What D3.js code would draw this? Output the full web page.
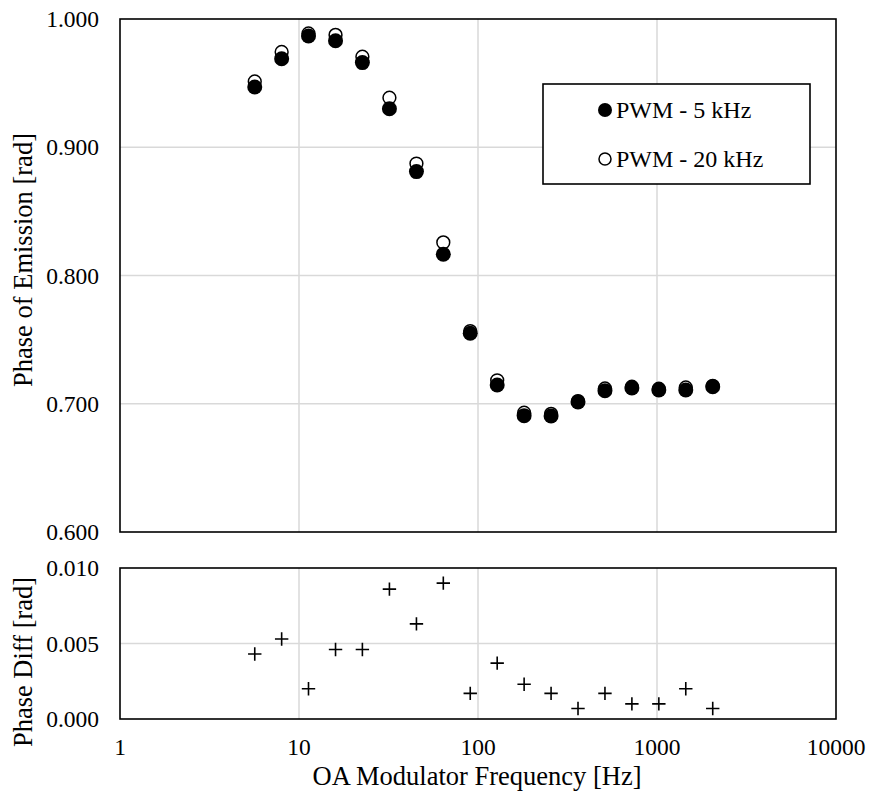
<!DOCTYPE html>
<html>
<head>
<meta charset="utf-8">
<script src="https://cdn.jsdelivr.net/npm/d3@7"></script>
<style>
  body { margin: 0; background: #fff; }
</style>
</head>
<body>
<div id="chart"></div>
<script>
// OA modulator frequencies [Hz]
var freqs = [5.66, 8, 11.3, 16, 22.6, 32, 45.3, 64, 90.5, 128, 181, 256, 362, 512, 724, 1024, 1448, 2048];
// phase of emission, PWM 5 kHz (filled)
var phase5k = [0.947, 0.969, 0.9867, 0.983, 0.966, 0.930, 0.881, 0.8166, 0.755, 0.7146, 0.6907, 0.6904, 0.7014, 0.7102, 0.7123, 0.7107, 0.7107, 0.7133];
// phase of emission, PWM 20 kHz (open)
var phase20k = [0.9513, 0.9743, 0.9887, 0.9876, 0.9706, 0.9386, 0.8873, 0.8258, 0.7567, 0.7183, 0.6930, 0.6921, 0.7021, 0.7119, 0.7133, 0.7117, 0.7127, 0.7140];
// phase difference
var phaseDiff = [0.0043, 0.0053, 0.0020, 0.0046, 0.0046, 0.0086, 0.0063, 0.0090, 0.0017, 0.0037, 0.0023, 0.0017, 0.0007, 0.0017, 0.0010, 0.0010, 0.0020, 0.0007];

var xTicks = [1, 10, 100, 1000, 10000];
var topTicks = [0.6, 0.7, 0.8, 0.9, 1.0];
var botTicks = [0, 0.005, 0.01];

var svgWidth = 872, svgHeight = 798;
var left = 120, right = 836;
var serif = "'Liberation Serif', Tinos, 'Times New Roman', serif";

var svg = d3.select("#chart").append("svg")
  .attr("width", svgWidth)
  .attr("height", svgHeight)
  .attr("font-family", serif);

var x = d3.scaleLog().domain([1, 10000]).range([left, right]);
var yTop = d3.scaleLinear().domain([0.6, 1.0]).range([532, 19]);
var yBot = d3.scaleLinear().domain([0, 0.01]).range([719, 568]);

var fmt = d3.format(".3f");

function drawPanel(y, ticks, y0, y1) {
  var g = svg.append("g");
  // vertical grid
  g.selectAll(".vg").data(xTicks.slice(1, -1)).enter().append("line")
    .attr("x1", d => x(d)).attr("x2", d => x(d))
    .attr("y1", y0).attr("y2", y1)
    .attr("stroke", "#d9d9d9").attr("stroke-width", 1.5);
  // horizontal grid
  g.selectAll(".hg").data(ticks.slice(1, -1)).enter().append("line")
    .attr("x1", left).attr("x2", right)
    .attr("y1", d => y(d)).attr("y2", d => y(d))
    .attr("stroke", "#d9d9d9").attr("stroke-width", 1.5);
  // y tick labels
  g.selectAll(".yl").data(ticks).enter().append("text")
    .attr("x", 99).attr("y", d => y(d))
    .attr("dy", "0.35em")
    .attr("text-anchor", "end")
    .attr("font-size", 23.5)
    .text(d => fmt(d));
  return g;
}

drawPanel(yTop, topTicks, 19, 532);
drawPanel(yBot, botTicks, 568, 719);

// top markers: open first, filled on top
svg.append("g").selectAll("circle").data(freqs).enter().append("circle")
  .attr("cx", d => x(d))
  .attr("cy", (d, i) => yTop(phase20k[i]))
  .attr("r", 6.4)
  .attr("fill", "#fff").attr("stroke", "#000").attr("stroke-width", 1.5);

svg.append("g").selectAll("circle").data(freqs).enter().append("circle")
  .attr("cx", d => x(d))
  .attr("cy", (d, i) => yTop(phase5k[i]))
  .attr("r", 7.5)
  .attr("fill", "#000");

// bottom crosses
svg.append("g").selectAll("path").data(freqs).enter().append("path")
  .attr("d", "M-6.7,0H6.7M0,-6.7V6.7")
  .attr("transform", (d, i) => `translate(${x(d)},${yBot(phaseDiff[i])})`)
  .attr("stroke", "#000").attr("stroke-width", 1.6).attr("fill", "none");

// plot frames
svg.append("rect").attr("x", left).attr("y", 19).attr("width", right - left).attr("height", 532 - 19)
  .attr("fill", "none").attr("stroke", "#000").attr("stroke-width", 1.6);
svg.append("rect").attr("x", left).attr("y", 568).attr("width", right - left).attr("height", 719 - 568)
  .attr("fill", "none").attr("stroke", "#000").attr("stroke-width", 1.6);

// x tick labels
svg.append("g").selectAll("text").data(xTicks).enter().append("text")
  .attr("x", d => x(d)).attr("y", 755)
  .attr("text-anchor", "middle")
  .attr("font-size", 23.5)
  .text(d => d);

// axis titles
svg.append("text")
  .attr("x", 477).attr("y", 785)
  .attr("text-anchor", "middle")
  .attr("font-size", 26.5)
  .text("OA Modulator Frequency [Hz]");

svg.append("text")
  .attr("transform", "translate(32,260) rotate(-90)")
  .attr("text-anchor", "middle")
  .attr("font-size", 26.5)
  .text("Phase of Emission [rad]");

svg.append("text")
  .attr("transform", "translate(32,662) rotate(-90)")
  .attr("text-anchor", "middle")
  .attr("font-size", 26.5)
  .text("Phase Diff [rad]");

// legend
var lg = svg.append("g");
lg.append("rect").attr("x", 543).attr("y", 84).attr("width", 267).attr("height", 100)
  .attr("fill", "#fff").attr("stroke", "#000").attr("stroke-width", 1.6);
lg.append("circle").attr("cx", 605).attr("cy", 110).attr("r", 7).attr("fill", "#000");
lg.append("circle").attr("cx", 605).attr("cy", 159).attr("r", 6).attr("fill", "#fff")
  .attr("stroke", "#000").attr("stroke-width", 1.5);
lg.append("text").attr("x", 616).attr("y", 110).attr("dy", "0.35em")
  .attr("font-size", 24).text("PWM - 5 kHz");
lg.append("text").attr("x", 616).attr("y", 159).attr("dy", "0.35em")
  .attr("font-size", 24).text("PWM - 20 kHz");
</script>
</body>
</html>
